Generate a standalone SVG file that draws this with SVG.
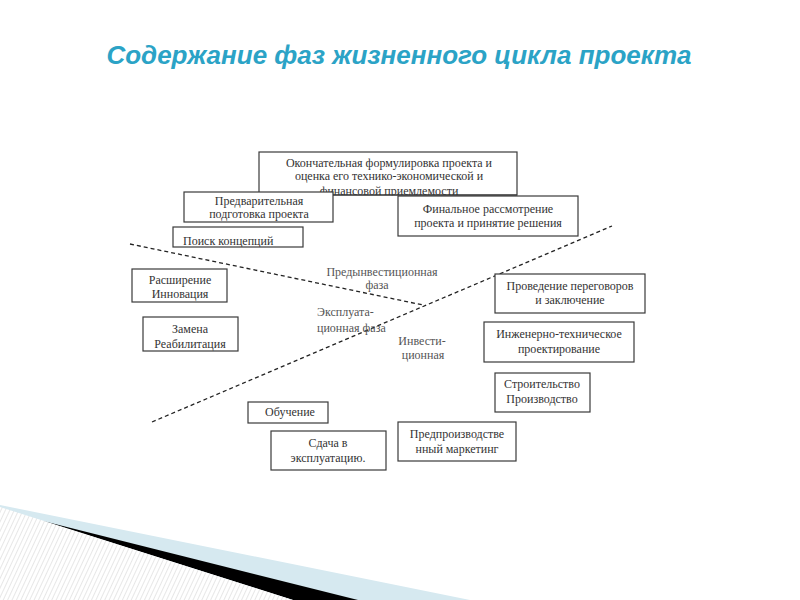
<svg xmlns="http://www.w3.org/2000/svg" width="800" height="600" viewBox="0 0 800 600">
<defs>
<style>
.box{fill:#fff;stroke:#3a3a3a;stroke-width:1.2}
.t{font-family:"Liberation Serif","Times New Roman",serif;font-size:12px;fill:#333;text-anchor:middle}
.tl{text-anchor:start}
.ph{font-family:"Liberation Serif","Times New Roman",serif;font-size:12px;fill:#555;text-anchor:middle}
.phl{text-anchor:start}
.dash{fill:none;stroke:#222;stroke-width:1.3;stroke-dasharray:4 3}
</style>
<clipPath id="clipTop"><rect x="259" y="152" width="258" height="43.5"/></clipPath>
<clipPath id="clipSearch"><rect x="173" y="227" width="130" height="20"/></clipPath>
<pattern id="hatch" width="4" height="4" patternUnits="userSpaceOnUse" patternTransform="rotate(25)">
<rect width="4" height="4" fill="#fff"/>
<line x1="0" y1="0" x2="0" y2="4" stroke="#d4d4d4" stroke-width="1.1"/>
</pattern>
</defs>
<rect width="800" height="600" fill="#fff"/>
<text x="399" y="64" font-family="'Liberation Sans',Arial,sans-serif" font-size="26" font-weight="bold" font-style="italic" fill="#2ba3c6" text-anchor="middle">Содержание фаз жизненного цикла проекта</text>

<g id="decor">
<polygon points="0,505 470,600 0,600" fill="#d6e9f0"/>
<polygon points="43,521 358,600 293,600" fill="#000"/>
<polygon points="0,507 293,600 0,600" fill="url(#hatch)"/>
</g>

<g id="connectors">
<line class="dash" x1="130" y1="244" x2="423" y2="305"/>
<line class="dash" x1="152" y1="422" x2="612" y2="226"/>
</g>

<g id="phase-labels">
<text class="ph" x="382" y="276">Предынвестиционная</text>
<text class="ph" x="377" y="289">фаза</text>
<text class="ph phl" x="317" y="316">Эксплуата-</text>
<text class="ph phl" x="317" y="332">ционная фаза</text>
<text class="ph" x="422" y="345">Инвести-</text>
<text class="ph" x="423" y="359">ционная</text>
</g>

<g id="n-final-form">
<rect class="box" x="259" y="152" width="258" height="43"/>
<g clip-path="url(#clipTop)">
<text class="t" x="389" y="167">Окончательная формулировка проекта и</text>
<text class="t" x="389" y="180">оценка его технико-экономической и</text>
<text class="t" x="389" y="195">финансовой приемлемости</text>
</g>
<line x1="259" y1="195" x2="517" y2="195" stroke="#3a3a3a" stroke-width="1.2"/>
</g>

<g id="n-prelim">
<rect class="box" x="184" y="192" width="149" height="30"/>
<text class="t" x="259" y="205">Предварительная</text>
<text class="t" x="259" y="218">подготовка проекта</text>
</g>

<g id="n-search">
<rect class="box" x="173" y="227" width="130" height="20"/>
<g clip-path="url(#clipSearch)">
<text class="t tl" x="183" y="245">Поиск концепций</text>
</g>
</g>

<g id="n-final-review">
<rect class="box" x="398" y="196" width="180" height="40"/>
<text class="t" x="488" y="213">Финальное рассмотрение</text>
<text class="t" x="488" y="227">проекта и принятие решения</text>
</g>

<g id="n-expand">
<rect class="box" x="132" y="269" width="95" height="33"/>
<text class="t" x="180" y="284">Расширение</text>
<text class="t" x="180" y="298">Инновация</text>
</g>

<g id="n-replace">
<rect class="box" x="143" y="317" width="95" height="34"/>
<text class="t" x="190" y="333">Замена</text>
<text class="t" x="190" y="348">Реабилитация</text>
</g>

<g id="n-negotiation">
<rect class="box" x="495" y="274" width="150" height="39"/>
<text class="t" x="570" y="290">Проведение переговоров</text>
<text class="t" x="570" y="304">и заключение</text>
</g>

<g id="n-engineering">
<rect class="box" x="484" y="322" width="150" height="40"/>
<text class="t" x="559" y="338">Инженерно-техническое</text>
<text class="t" x="559" y="353">проектирование</text>
</g>

<g id="n-construction">
<rect class="box" x="495" y="373" width="95" height="39"/>
<text class="t" x="542" y="388">Строительство</text>
<text class="t" x="542" y="403">Производство</text>
</g>

<g id="n-marketing">
<rect class="box" x="398" y="422" width="118" height="39"/>
<text class="t" x="457" y="438">Предпроизводстве</text>
<text class="t" x="457" y="453">нный маркетинг</text>
</g>

<g id="n-training">
<rect class="box" x="248" y="402" width="80" height="21"/>
<text class="t" x="290" y="416">Обучение</text>
</g>

<g id="n-commission">
<rect class="box" x="271" y="431" width="115" height="39"/>
<text class="t" x="328" y="447">Сдача в</text>
<text class="t" x="328" y="462">эксплуатацию.</text>
</g>
</svg>
